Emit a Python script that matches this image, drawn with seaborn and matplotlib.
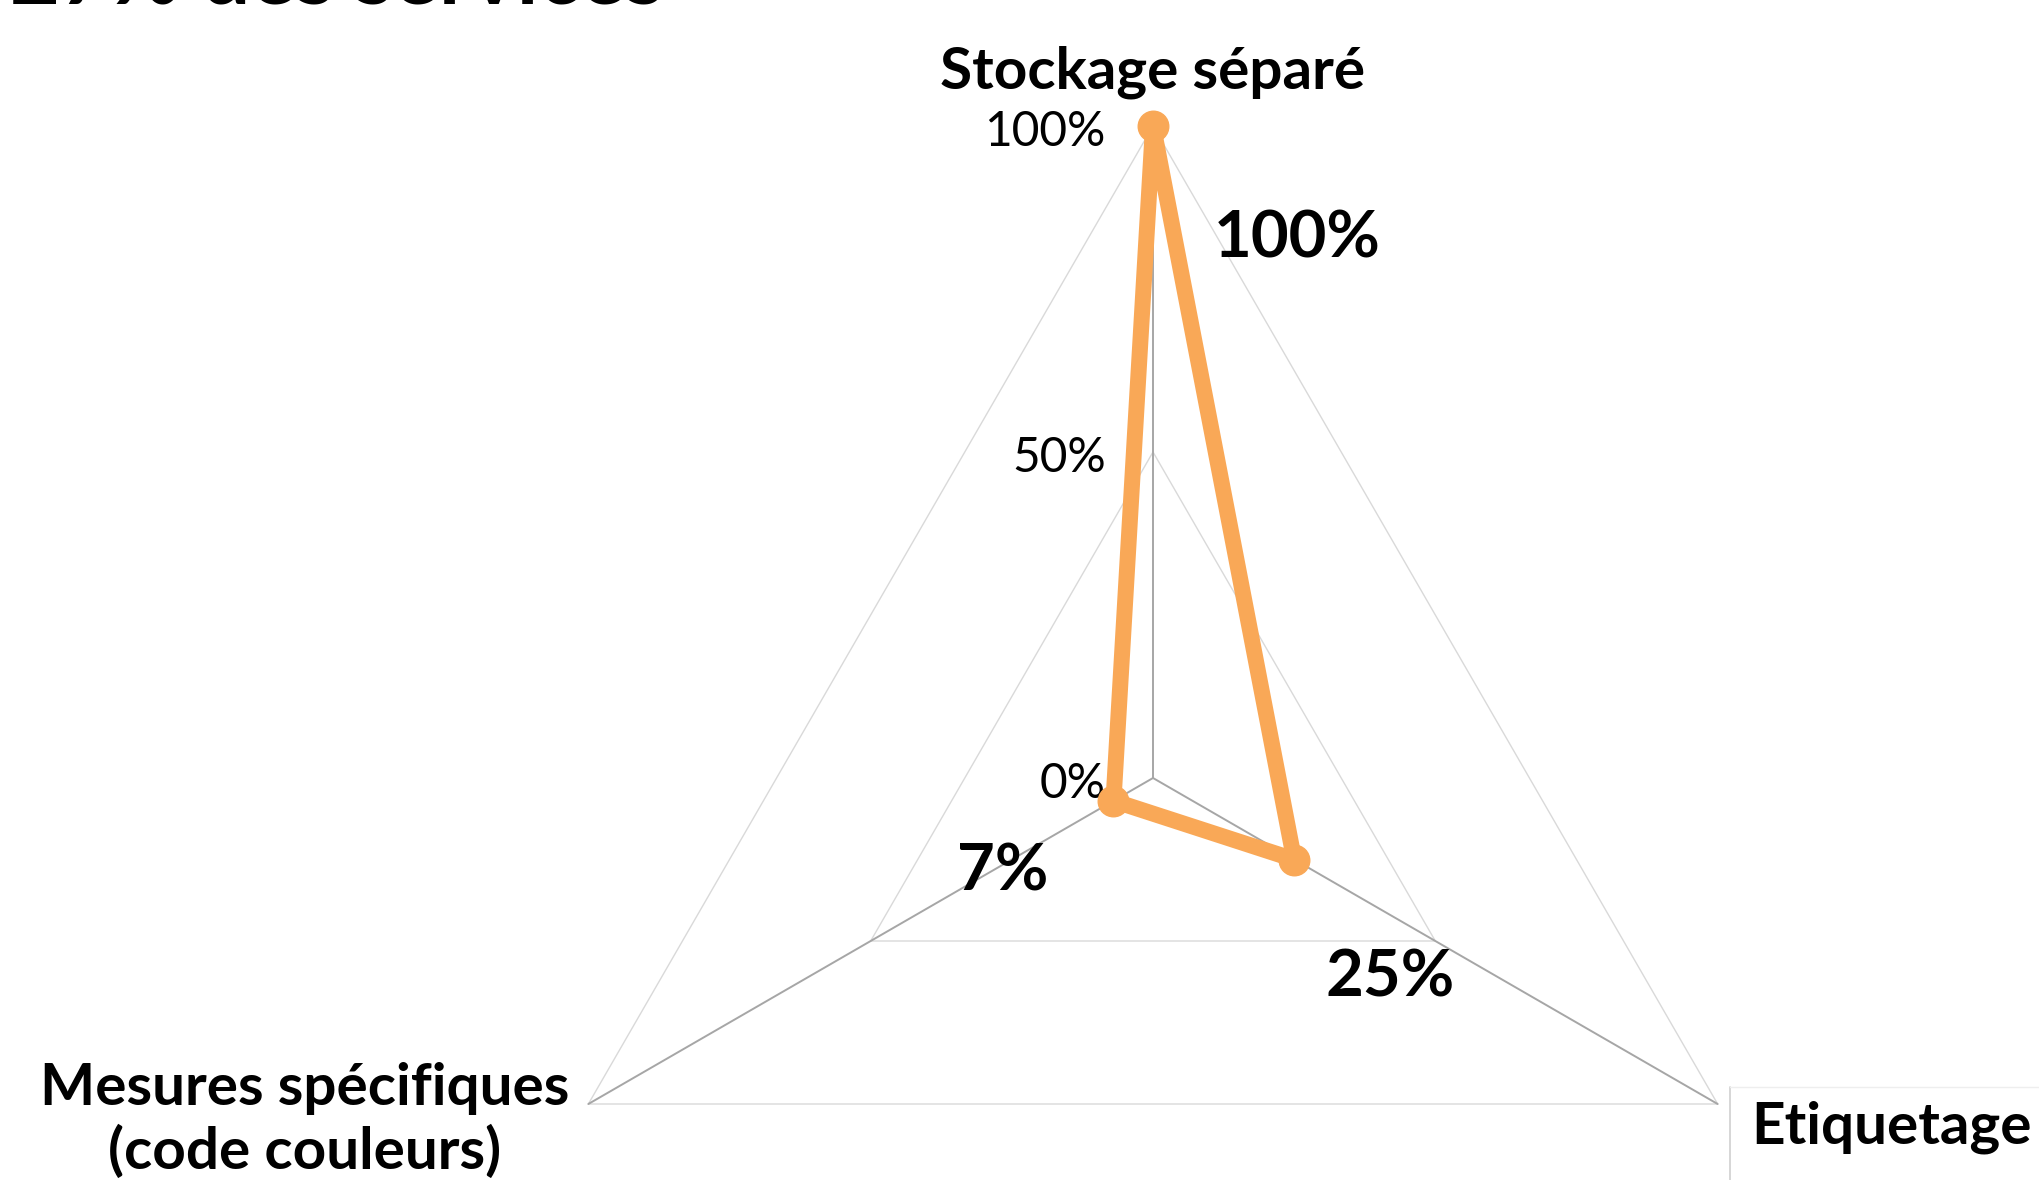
import numpy as np
import matplotlib
matplotlib.use("Agg")
import matplotlib.pyplot as plt
import seaborn as sns

# data
categories = ["Stockage séparé", "Etiquetage", "Mesures spécifiques\n(code couleurs)"]
values = [100, 25, 7]
ring_ticks = [0, 50, 100]
ring_labels = ["0%", "50%", "100%"]
value_labels = [f"{v}%" for v in values]
title = "27% des services"

sns.set_theme(style="white")
plt.rcParams["font.family"] = ["Lato", "DejaVu Sans"]
plt.rcParams["text.color"] = "black"

W, H = 2040, 1180
CX, CY, R = 1153, 778, 652   # centre and radius in pixels

fig = plt.figure(figsize=(W / 100, H / 100), dpi=100)
ax = fig.add_axes([0, 0, 1, 1])
ax.set_xlim(-CX / R, (W - CX) / R)
ax.set_ylim(-(H - CY) / R, CY / R)
ax.set_aspect("equal")
ax.axis("off")

n = len(categories)
theta = np.deg2rad(90 - np.arange(n) * 360 / n)

def to_xy(r):
    return np.asarray(r) * np.cos(theta), np.asarray(r) * np.sin(theta)

# triangular rings
for t in ring_ticks[1:]:
    gx, gy = to_xy(np.full(n, t / 100))
    ax.plot(np.append(gx, gx[0]), np.append(gy, gy[0]), color="#D9D9D9", lw=1.0, zorder=1)
# spokes
ox, oy = to_xy(np.ones(n))
for x, y in zip(ox, oy):
    ax.plot([0, x], [0, y], color="#A6A6A6", lw=1.4, zorder=2)

# ring labels on the vertical axis
for t, lab in zip(ring_ticks, ring_labels):
    ax.annotate(lab, (0, t / 100), xytext=(-34, -4), textcoords="offset points",
                ha="right", va="center", fontsize=34.5, color="black")

# series
vx, vy = to_xy(np.array(values) / 100)
sns.lineplot(x=np.append(vx, vx[0]), y=np.append(vy, vy[0]), sort=False, estimator=None,
             color="#F9A857", lw=11.5, ax=ax, zorder=3)
ax.plot(vx, vy, "o", color="#F9A857", ms=22, zorder=4)

# value labels
value_offsets = [(104, -81), (69, -85), (-80, -51)]
for x, y, lab, off in zip(vx, vy, value_labels, value_offsets):
    ax.annotate(lab, (x, y), xytext=off, textcoords="offset points",
                ha="center", va="center", fontsize=47, fontweight="bold", color="black")

# category labels
cat_layout = [((0, 39), "center", "center"),
              ((24, -17), "left", "center"),
              ((-14, -12), "right", "center")]
for x, y, lab, (off, ha, va) in zip(ox, oy, categories, cat_layout):
    ax.annotate(lab, (x, y), xytext=off, textcoords="offset points",
                ha=ha, va=va, fontsize=42, fontweight="bold", color="black",
                multialignment="center", linespacing=1.22)

# faint box edge near the Etiquetage label
ax.plot([1730 / W, 1730 / W], [0, 1 - 1087 / H], transform=ax.transAxes, color="#D0D0D0", lw=1.2)
ax.plot([1730 / W, 1], [1 - 1087 / H, 1 - 1087 / H], transform=ax.transAxes, color="#EEEEEE", lw=1.0)

# clipped title at the very top
fig.text(10 / W, 1 - 3 / H, title, ha="left", va="baseline", fontsize=62, fontweight="bold")

fig.savefig("out.png", dpi=100)
